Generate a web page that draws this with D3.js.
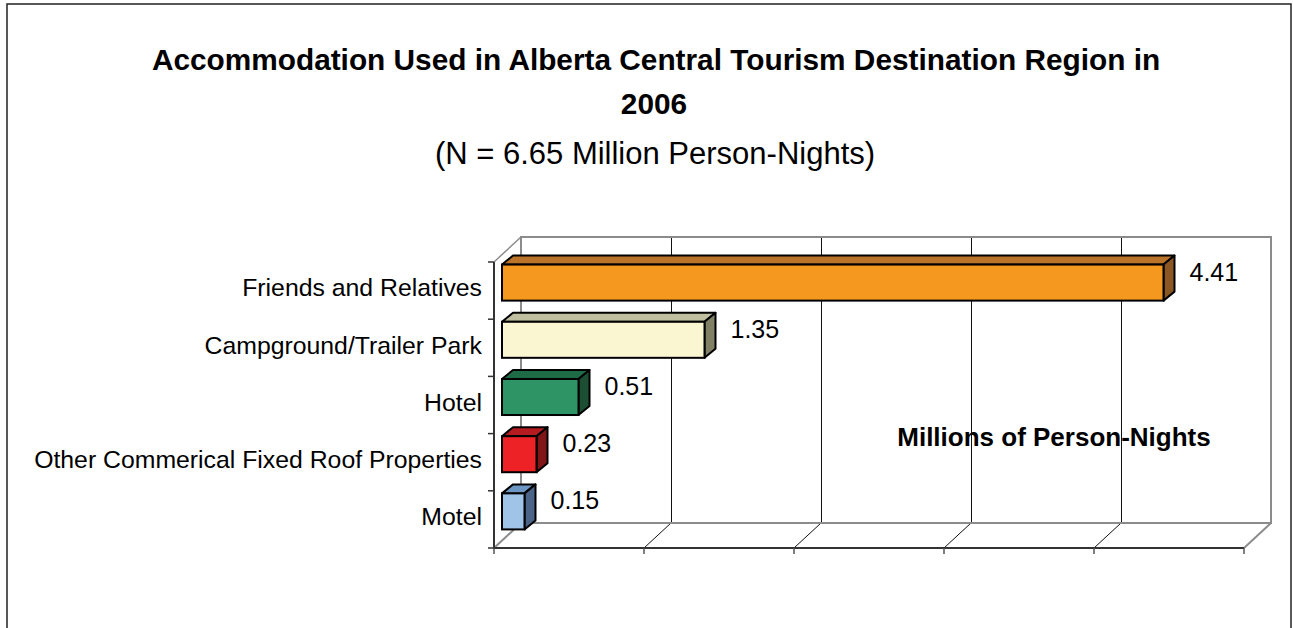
<!DOCTYPE html>
<html>
<head>
<meta charset="utf-8">
<script src="https://cdn.jsdelivr.net/npm/d3@7"></script>
<style>
    body { margin: 0; background: #fff; }
    text { font-family: "Liberation Sans", Arial, sans-serif; fill: #000; }
</style>
</head>
<body>
<svg id="chart"></svg>
<script>
// data
var categories = ["Friends and Relatives", "Campground/Trailer Park", "Hotel",
    "Other Commerical Fixed Roof Properties", "Motel"];
var values = [4.41, 1.35, 0.51, 0.23, 0.15];
var valueLabels = ["4.41", "1.35", "0.51", "0.23", "0.15"];
var xTicks = [0, 1, 2, 3, 4, 5];

var titleLines = ["Accommodation Used in Alberta Central Tourism Destination Region in", "2006"];
var subTitle = "(N = 6.65 Million Person-Nights)";
var axisTitle = "Millions of Person-Nights";

// face colours for each bar: front, top, side
var palette = [
    ["rgb(245,152,32)", "rgb(186,116,42)", "rgb(138,86,36)"],
    ["rgb(250,246,210)", "rgb(192,192,160)", "rgb(128,128,100)"],
    ["rgb(46,148,102)", "rgb(30,108,70)", "rgb(28,78,52)"],
    ["rgb(236,34,38)", "rgb(180,28,32)", "rgb(128,22,24)"],
    ["rgb(160,196,232)", "rgb(110,150,196)", "rgb(76,100,136)"]
];

function init() {
    var w = 1293;
    var h = 628;

    // 3d depth of the plot box and of the bars
    var depth = { dx: 27, dy: -25 };
    var barOff = { dx: 8, dy: -8 };
    var barDepth = { dx: 11, dy: -9 };

    var svg = d3.select("#chart")
        .attr("width", w)
        .attr("height", h);

    var xScale = d3.scaleLinear()
        .domain([0, 5])
        .range([494, 1244]);

    var yCell = d3.scaleBand()
        .domain(categories)
        .range([262, 548]);

    var yScale = d3.scaleBand()
        .domain(categories)
        .range([262, 548])
        .paddingInner(0.37)
        .paddingOuter(0.185);

    var floorY = yCell.range()[1];
    var topY = yCell.range()[0];

    // outer border
    svg.append("rect")
        .attr("x", 7)
        .attr("y", 4)
        .attr("width", 1284)
        .attr("height", 660)
        .attr("fill", "none")
        .attr("stroke", "#222")
        .attr("stroke-width", 1.5);

    // titles
    svg.append("text")
        .attr("x", 656)
        .attr("y", 70)
        .attr("text-anchor", "middle")
        .style("font-size", "29.8px")
        .style("font-weight", "bold")
        .text(titleLines[0]);

    svg.append("text")
        .attr("x", 654)
        .attr("y", 114)
        .attr("text-anchor", "middle")
        .style("font-size", "29.8px")
        .style("font-weight", "bold")
        .text(titleLines[1]);

    svg.append("text")
        .attr("x", 655)
        .attr("y", 164)
        .attr("text-anchor", "middle")
        .style("font-size", "31px")
        .text(subTitle);

    // back wall gridlines
    svg.selectAll(".grid")
        .data(xTicks.slice(1, -1))
        .enter()
        .append("line")
        .attr("class", "grid")
        .attr("x1", function (d) { return xScale(d) + depth.dx + 0.5; })
        .attr("x2", function (d) { return xScale(d) + depth.dx + 0.5; })
        .attr("y1", topY + depth.dy)
        .attr("y2", floorY + depth.dy)
        .attr("stroke", "#111")
        .attr("stroke-width", 1);

    // floor diagonals
    svg.selectAll(".diag")
        .data(xTicks)
        .enter()
        .append("line")
        .attr("class", "diag")
        .attr("x1", function (d) { return xScale(d); })
        .attr("x2", function (d) { return xScale(d) + depth.dx; })
        .attr("y1", floorY)
        .attr("y2", floorY + depth.dy)
        .attr("stroke", function (d, i) { return (i == 0 || i == xTicks.length - 1) ? "#8c8c8c" : "#111"; })
        .attr("stroke-width", function (d, i) { return (i == 0 || i == xTicks.length - 1) ? 2 : 1; });

    // back wall frame
    svg.append("rect")
        .attr("x", xScale(0) + depth.dx)
        .attr("y", topY + depth.dy)
        .attr("width", xScale(5) - xScale(0))
        .attr("height", floorY - topY)
        .attr("fill", "none")
        .attr("stroke", "#8c8c8c")
        .attr("stroke-width", 2);

    // side wall top edge
    svg.append("line")
        .attr("x1", xScale(0))
        .attr("y1", topY)
        .attr("x2", xScale(0) + depth.dx)
        .attr("y2", topY + depth.dy)
        .attr("stroke", "#8c8c8c")
        .attr("stroke-width", 1.5);

    // front floor edge + ticks
    svg.append("line")
        .attr("x1", xScale(0))
        .attr("x2", xScale(5))
        .attr("y1", floorY)
        .attr("y2", floorY)
        .attr("stroke", "#333")
        .attr("stroke-width", 2);

    svg.selectAll(".xtick")
        .data(xTicks)
        .enter()
        .append("line")
        .attr("class", "xtick")
        .attr("x1", function (d) { return xScale(d); })
        .attr("x2", function (d) { return xScale(d); })
        .attr("y1", floorY)
        .attr("y2", floorY + 6)
        .attr("stroke", "#555")
        .attr("stroke-width", 1.5);

    // category axis
    svg.append("line")
        .attr("x1", xScale(0))
        .attr("x2", xScale(0))
        .attr("y1", topY)
        .attr("y2", floorY)
        .attr("stroke", "#333")
        .attr("stroke-width", 2);

    var yTicks = categories.map(function (c) { return yCell(c); }).concat([floorY]);
    svg.selectAll(".ytick")
        .data(yTicks)
        .enter()
        .append("line")
        .attr("class", "ytick")
        .attr("x1", xScale(0) - 6)
        .attr("x2", xScale(0))
        .attr("y1", function (d) { return d; })
        .attr("y2", function (d) { return d; })
        .attr("stroke", "#333")
        .attr("stroke-width", 1.5);

    svg.selectAll(".catlabel")
        .data(categories)
        .enter()
        .append("text")
        .attr("class", "catlabel")
        .attr("x", xScale(0) - 12)
        .attr("y", function (d) { return yCell(d) + yCell.bandwidth() / 2; })
        .attr("dy", "0.23em")
        .attr("text-anchor", "end")
        .style("font-size", "24.8px")
        .text(function (d) { return d; });

    // 3d bars
    var bars = svg.selectAll(".bar")
        .data(values)
        .enter()
        .append("g")
        .attr("class", "bar");

    function x0() { return xScale(0) + barOff.dx; }
    function x1(d) { return xScale(d) + barOff.dx; }
    function y0(d, i) { return yScale(categories[i]) + barOff.dy; }
    function y1(d, i) { return y0(d, i) + yScale.bandwidth(); }

    // top face
    bars.append("path")
        .attr("d", function (d, i) {
            return "M" + x0() + "," + y0(d, i) +
                "L" + (x0() + barDepth.dx) + "," + (y0(d, i) + barDepth.dy) +
                "L" + (x1(d) + barDepth.dx) + "," + (y0(d, i) + barDepth.dy) +
                "L" + x1(d) + "," + y0(d, i) + "Z";
        })
        .attr("fill", function (d, i) { return palette[i][1]; })
        .attr("stroke", "#000")
        .attr("stroke-width", 2)
        .attr("stroke-linejoin", "round");

    // side face
    bars.append("path")
        .attr("d", function (d, i) {
            return "M" + x1(d) + "," + y0(d, i) +
                "L" + (x1(d) + barDepth.dx) + "," + (y0(d, i) + barDepth.dy) +
                "L" + (x1(d) + barDepth.dx) + "," + (y1(d, i) + barDepth.dy) +
                "L" + x1(d) + "," + y1(d, i) + "Z";
        })
        .attr("fill", function (d, i) { return palette[i][2]; })
        .attr("stroke", "#000")
        .attr("stroke-width", 2)
        .attr("stroke-linejoin", "round");

    // front face
    bars.append("rect")
        .attr("x", x0())
        .attr("y", function (d, i) { return y0(d, i); })
        .attr("width", function (d) { return x1(d) - x0(); })
        .attr("height", yScale.bandwidth())
        .attr("fill", function (d, i) { return palette[i][0]; })
        .attr("stroke", "#000")
        .attr("stroke-width", 2);

    // value labels
    bars.append("text")
        .attr("x", function (d) { return x1(d) + 26; })
        .attr("y", function (d, i) { return y0(d, i) + yScale.bandwidth() / 2 - 2; })
        .style("font-size", "25px")
        .text(function (d, i) { return valueLabels[i]; });

    // axis title inside the plot
    svg.append("text")
        .attr("x", 1054)
        .attr("y", 446)
        .attr("text-anchor", "middle")
        .style("font-size", "26px")
        .style("font-weight", "bold")
        .text(axisTitle);
}
window.onload = init;
</script>
</body>
</html>
